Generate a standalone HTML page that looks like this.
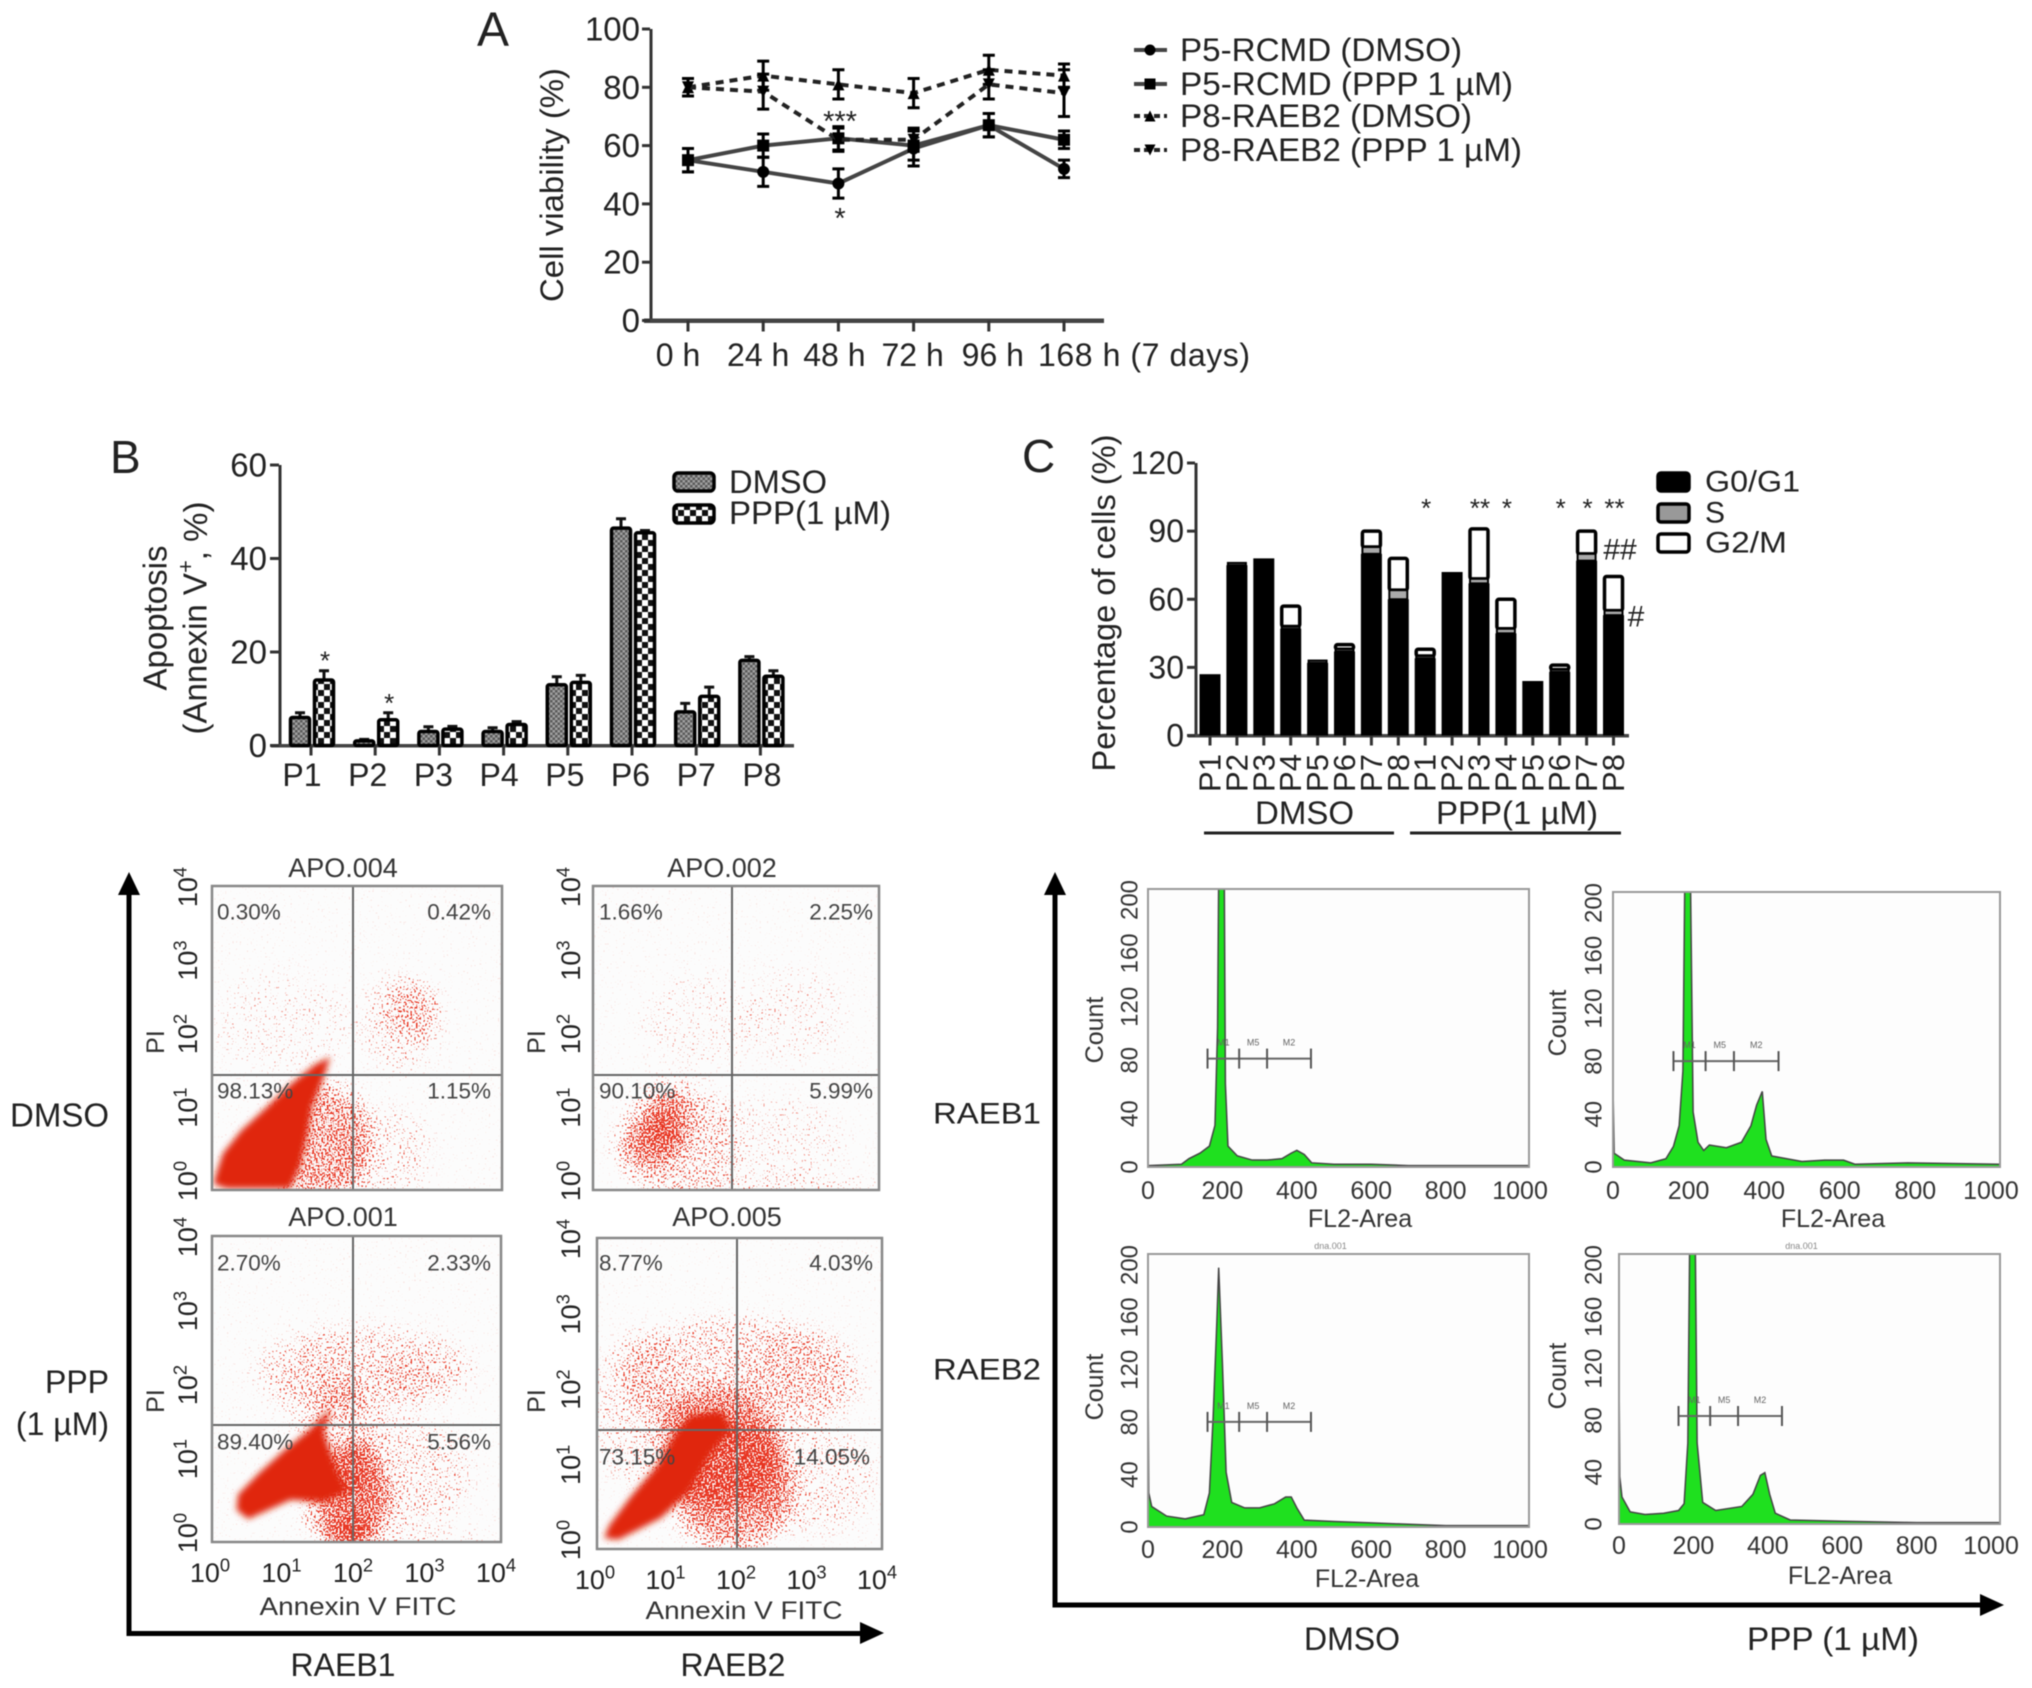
<!DOCTYPE html>
<html lang="en">
<head>
<meta charset="utf-8">
<title>Cell viability, apoptosis and cell cycle panels</title>
<style>
html,body{margin:0;padding:0;background:#fff;width:2032px;height:1688px;overflow:hidden}
svg{display:block;font-family:"Liberation Sans",sans-serif;fill:#222;dominant-baseline:central;filter:blur(.6px)}
.t32{font-size:32px}
.t30{font-size:30px}
.pct{font-size:22.5px;fill:#444}
.ttl{font-size:27px;fill:#333}
.ann{font-size:25px;fill:#333}
.mid{text-anchor:middle}
.end{text-anchor:end}
</style>
</head>
<body>
<svg id="fig" width="2032" height="1688" viewBox="0 0 2032 1688" xmlns="http://www.w3.org/2000/svg">
<defs>
  <pattern id="patDmso" width="5" height="5" patternUnits="userSpaceOnUse">
    <rect width="5" height="5" fill="#a0a0a0"/><rect width="2.5" height="2.5" fill="#5a5a5a"/><rect x="2.5" y="2.5" width="2.5" height="2.5" fill="#5a5a5a"/>
  </pattern>
  <pattern id="patPpp" width="12" height="12" patternUnits="userSpaceOnUse">
    <rect width="12" height="12" fill="#fff"/><rect width="6" height="6" fill="#111"/><rect x="6" y="6" width="6" height="6" fill="#111"/>
  </pattern>
  <filter id="speckle" x="-30%" y="-30%" width="160%" height="160%" color-interpolation-filters="sRGB">
    <feGaussianBlur in="SourceAlpha" stdDeviation="9" result="dens"/>
    <feTurbulence type="fractalNoise" baseFrequency="0.55" numOctaves="1" seed="4" result="n"/>
    <feColorMatrix in="n" type="matrix" values="0 0 0 0 0  0 0 0 0 0  0 0 0 0 0  2.4 0 0 0 -0.7" result="na"/>
    <feComposite in="dens" in2="na" operator="arithmetic" k1="0" k2="7" k3="7" k4="-7" result="mask"/>
    <feFlood flood-color="#e8321e"/>
    <feComposite in2="mask" operator="in"/>
  </filter>
  <filter id="soft"><feGaussianBlur stdDeviation="3.2"/></filter>
</defs>

<!-- Panel letters -->
<text x="477" y="30" font-size="48">A</text>
<text x="110" y="457" font-size="46">B</text>
<text x="1022" y="456" font-size="46">C</text>

<!-- Panel A static text -->
<text class="t32 mid" transform="translate(552 185) rotate(-90)" textLength="234" lengthAdjust="spacingAndGlyphs">Cell viability (%)</text>
<text class="t32" x="1180" y="50" textLength="282" lengthAdjust="spacingAndGlyphs">P5-RCMD (DMSO)</text>
<text class="t32" x="1180" y="84" textLength="333" lengthAdjust="spacingAndGlyphs">P5-RCMD (PPP 1 µM)</text>
<text class="t32" x="1180" y="116" textLength="292" lengthAdjust="spacingAndGlyphs">P8-RAEB2 (DMSO)</text>
<text class="t32" x="1180" y="150" textLength="342" lengthAdjust="spacingAndGlyphs">P8-RAEB2 (PPP 1 µM)</text>

<!-- Panel B static text -->
<text class="mid" font-size="33" transform="translate(155 618) rotate(-90)">Apoptosis</text>
<text class="mid" font-size="33" transform="translate(195 618) rotate(-90)">(Annexin V<tspan font-size="22" dy="-10">+</tspan><tspan dy="10">, %)</tspan></text>
<text class="t32" x="729" y="482" textLength="98" lengthAdjust="spacingAndGlyphs">DMSO</text>
<text class="t32" x="729" y="513" textLength="162" lengthAdjust="spacingAndGlyphs">PPP(1 µM)</text>

<!-- Panel C static text -->
<text class="t32 mid" transform="translate(1104 603) rotate(-90)" textLength="337" lengthAdjust="spacingAndGlyphs">Percentage of cells (%)</text>
<text class="t30" x="1705" y="482" textLength="95" lengthAdjust="spacingAndGlyphs">G0/G1</text>
<text class="t30" x="1705" y="513">S</text>
<text class="t30" x="1705" y="543" textLength="82" lengthAdjust="spacingAndGlyphs">G2/M</text>
<text class="t32" x="1255" y="813" textLength="99" lengthAdjust="spacingAndGlyphs">DMSO</text>
<text class="t32" x="1436" y="813" textLength="162" lengthAdjust="spacingAndGlyphs">PPP(1 µM)</text>
<rect x="1204" y="831.5" width="190" height="3" fill="#222"/>
<rect x="1410" y="831.5" width="211" height="3" fill="#222"/>
<text x="1620" y="550" font-size="30" class="mid">##</text>
<text x="1636" y="617" font-size="30" class="mid">#</text>

<!-- Large axes -->
<g fill="#000">
  <rect x="126.5" y="884" width="5" height="752"/>
  <rect x="126.5" y="1631" width="742" height="5"/>
  <polygon points="129,872 118,895 140,895"/>
  <polygon points="884,1633 860,1622 860,1644"/>
</g>
<g fill="#000">
  <rect x="1052.5" y="884" width="5" height="723"/>
  <rect x="1052.5" y="1602.5" width="935" height="5"/>
  <polygon points="1055,872 1044,895 1066,895"/>
  <polygon points="2004,1605 1980,1594 1980,1616"/>
</g>
<text class="end" font-size="33" x="109" y="1115">DMSO</text>
<text class="t32 end" x="109" y="1382">PPP</text>
<text class="t32 end" x="109" y="1424">(1 µM)</text>
<text class="t32 mid" x="343" y="1665">RAEB1</text>
<text class="t32 mid" x="733" y="1665">RAEB2</text>
<text class="t30" x="933" y="1114" textLength="108" lengthAdjust="spacingAndGlyphs">RAEB1</text>
<text class="t30" x="933" y="1370" textLength="108" lengthAdjust="spacingAndGlyphs">RAEB2</text>
<text class="t32 mid" x="1352" y="1639">DMSO</text>
<text class="t32 mid" x="1833" y="1639" textLength="172" lengthAdjust="spacingAndGlyphs">PPP (1 µM)</text>

<!-- Dot plot titles and quadrant percentages -->
<text class="ttl mid" x="343" y="868">APO.004</text>
<text class="ttl mid" x="722" y="868">APO.002</text>
<text class="ttl mid" x="343" y="1217">APO.001</text>
<text class="ttl mid" x="727" y="1217">APO.005</text>
<text class="ann mid" x="358" y="1607" textLength="197" lengthAdjust="spacingAndGlyphs">Annexin V FITC</text>
<text class="ann mid" x="744" y="1611" textLength="197" lengthAdjust="spacingAndGlyphs">Annexin V FITC</text>
<text class="ann mid" transform="translate(156 1042) rotate(-90)">PI</text>
<text class="ann mid" transform="translate(537 1042) rotate(-90)">PI</text>
<text class="ann mid" transform="translate(156 1401) rotate(-90)">PI</text>
<text class="ann mid" transform="translate(537 1401) rotate(-90)">PI</text>

<g id="chartA"></g>
<g id="chartB"></g>
<g id="chartC"></g>
<g id="dots"></g>
<g id="hists"></g>

<g>
<text class="pct" x="217" y="912">0.30%</text>
<text class="pct end" x="491" y="912">0.42%</text>
<text class="pct" x="217" y="1091">98.13%</text>
<text class="pct end" x="491" y="1091">1.15%</text>
<text class="pct" x="599" y="912">1.66%</text>
<text class="pct end" x="873" y="912">2.25%</text>
<text class="pct" x="599" y="1091">90.10%</text>
<text class="pct end" x="873" y="1091">5.99%</text>
<text class="pct" x="217" y="1263">2.70%</text>
<text class="pct end" x="491" y="1263">2.33%</text>
<text class="pct" x="217" y="1442">89.40%</text>
<text class="pct end" x="491" y="1442">5.56%</text>
<text class="pct" x="599" y="1263">8.77%</text>
<text class="pct end" x="873" y="1263">4.03%</text>
<text class="pct" x="599" y="1457">73.15%</text>
<text class="pct end" x="870" y="1457">14.05%</text>
</g>
</svg>

<script>
/* ---------- Panel A data ---------- */
const aCategories = ['0 h', '24 h', '48 h', '72 h', '96 h', '168 h (7 days)'];
const aYTicks = [0, 20, 40, 60, 80, 100];
const aP5Dmso = [55, 51, 47, 59, 67, 52];
const aP5Ppp = [55, 60, 62.5, 60, 67, 62];
const aP8Dmso = [80, 84, 81, 78, 86, 84];
const aP8Ppp = [80, 78.5, 62, 62, 81, 78];
const aP5DmsoErr = [4, 5, 5, 6, 4, 3];
const aP5PppErr = [4, 4, 4, 5, 4, 3];
const aP8DmsoErr = [3, 5, 5, 5, 5, 4];
const aP8PppErr = [3, 6, 4, 4, 5, 8];

/* ---------- Panel B data ---------- */
const bCategories = ['P1', 'P2', 'P3', 'P4', 'P5', 'P6', 'P7', 'P8'];
const bYTicks = [0, 20, 40, 60];
const bDmso = [6, 1, 3, 3, 13, 46.5, 7.2, 18.2];
const bPpp = [14, 5.5, 3.5, 4.5, 13.5, 45.5, 10.5, 14.8];
const bDmsoErr = [1, 0.3, 1, 0.8, 1.7, 2, 1.8, 0.8];
const bPppErr = [2, 1.5, 0.6, 0.6, 1.5, 0.5, 2, 1.2];
const bStars = ['*', '*', '', '', '', '', '', ''];

/* ---------- Panel C data ---------- */
const cCategories = ['P1', 'P2', 'P3', 'P4', 'P5', 'P6', 'P7', 'P8', 'P1', 'P2', 'P3', 'P4', 'P5', 'P6', 'P7', 'P8'];
const cYTicks = [0, 30, 60, 90, 120];
const cG0 = [27, 75, 78, 47, 32, 37, 80, 60, 34, 72, 67, 45, 24, 28, 77, 53];
const cS = [0, 1, 0, 1, 1, 1, 3, 4, 1, 0, 2, 2, 0, 1, 3, 2];
const cG2M = [0, 0, 0, 9, 0, 2, 7, 14, 3, 0, 22, 13, 0, 2, 10, 15];
const cStars = ['', '', '', '', '', '', '', '', '*', '', '**', '*', '', '*', '*', '**'];

/* ---------- Dot plot data: log10 axis units ---------- */
const dotLogTicks = [0, 1, 2, 3, 4];
const dot1Core = [[.06,.22],[.15,.48],[.40,.78],[.72,1.06],[1.07,1.38],[1.42,1.65],[1.63,1.75],[1.53,1.45],[1.38,1.10],[1.32,.75],[1.22,.32],[1.08,.02],[.2,.02],[.02,.08]];
const dot1Clouds = [[1.5,.6,.7,.8,.46],[2.4,.5,.6,.6,.12],[2.75,2.35,.38,.35,.28],[2.6,2.2,.5,.6,.14],[1,2.2,1,.6,.07]];
const dot2Core = [];
const dot2Clouds = [[.8,.6,.45,.35,.42],[1.05,.95,.35,.4,.44],[1.2,.6,.8,.8,.22],[2.8,2.3,.7,.6,.08],[1.5,2.2,.8,.6,.07],[2.5,.6,1,.6,.08],[2.5,.02,1.5,.06,.3]];
const dot3Core = [[.36,.62],[.65,.9],[1.0,1.2],[1.34,1.46],[1.64,1.75],[1.55,1.43],[1.7,1.01],[1.88,.66],[1.55,.52],[1.09,.55],[.5,.3],[.34,.42]];
const dot3Clouds = [[1.9,.6,.6,.7,.5],[2.1,2.25,1.5,.55,.18],[2.7,2.2,.5,.25,.2],[1.5,2.0,.6,.6,.12],[2.6,.9,1,.7,.16],[1.9,.12,.35,.2,.5],[1.8,1.3,.5,.9,.22],[2.8,.02,1,.05,.3]];
const dot4Core = [[.17,.3],[.47,.67],[.85,1.08],[1.1,1.5],[1.3,1.72],[1.75,1.78],[1.9,1.55],[1.6,1.22],[1.3,.74],[.9,.4],[.3,.12],[.1,.14]];
const dot4Clouds = [[1.9,.8,.9,.8,.48],[2,2.2,1.7,.75,.24],[2.7,2.3,.7,.4,.13],[1.7,1.3,.9,.8,.42],[.6,1.8,.6,1,.15],[3,.9,.9,.7,.13]];

/* ---------- Histogram data: channel and count ---------- */
const histXTicks = [0, 200, 400, 600, 800, 1000];
const histYTicks = [0, 40, 80, 120, 160, 200];
const hist1Channels = [0, 90, 110, 140, 165, 180, 187, 190, 205, 208, 215, 240, 280, 320, 360, 385, 400, 420, 440, 500, 600, 700, 1023];
const hist1Counts = [1, 2, 6, 10, 15, 30, 100, 210, 210, 60, 15, 8, 5, 5, 6, 10, 12, 9, 3, 2, 2, 1, 1];
const hist2Channels = [0, 3, 30, 100, 140, 160, 175, 185, 190, 205, 212, 225, 240, 255, 300, 340, 365, 380, 395, 405, 420, 500, 560, 610, 640, 780, 1023];
const hist2Counts = [60, 10, 5, 3, 6, 15, 30, 70, 210, 210, 40, 18, 12, 16, 14, 18, 30, 45, 55, 20, 8, 4, 5, 5, 2, 3, 2];
const hist3Channels = [0, 2, 10, 50, 100, 150, 165, 175, 185, 190, 200, 210, 225, 260, 300, 340, 370, 385, 400, 420, 500, 600, 800, 1023];
const hist3Counts = [120, 25, 15, 8, 6, 9, 25, 80, 150, 190, 120, 40, 18, 14, 14, 17, 22, 22, 14, 5, 4, 3, 1, 1];
const hist4Channels = [0, 2, 8, 30, 70, 120, 160, 175, 185, 190, 205, 210, 225, 260, 330, 360, 380, 392, 405, 420, 460, 600, 800, 1023];
const hist4Counts = [120, 35, 20, 9, 7, 8, 10, 15, 60, 210, 210, 60, 16, 10, 13, 22, 36, 38, 22, 8, 3, 2, 1, 1];
const gateChannels = [160, 245, 320, 438];
const gateLabels = ['M1', 'M5', 'M2'];

/* ---------- Helpers ---------- */
const NS = 'http://www.w3.org/2000/svg';
function mk(tag, parent, attrs) {
  const e = document.createElementNS(NS, tag);
  for (const k in attrs) e.setAttribute(k, attrs[k]);
  parent.appendChild(e);
  return e;
}
function txt(parent, str, x, y, size, anchor, rotate) {
  const e = mk('text', parent, {'font-size': size, 'text-anchor': anchor || 'middle'});
  if (rotate) e.setAttribute('transform', 'translate(' + x + ' ' + y + ') rotate(-90)');
  else { e.setAttribute('x', x); e.setAttribute('y', y); }
  e.textContent = str;
  return e;
}
function pow10(parent, exp, x, y, size, rotate) {
  const e = txt(parent, '10', x, y, size, 'middle', rotate);
  const s = mk('tspan', e, {'font-size': size * 0.68, dy: -size * 0.32});
  s.textContent = exp;
  return e;
}

/* ---------- Panel A ---------- */
(function () {
  const root = document.getElementById('chartA');
  const x = i => 688 + i * 75.2;
  const y = v => 320.5 - v * 2.915;
  const xNudge = [-10, -5, -4, -1, 4];

  const yAxis = mk('rect', root, {x: 649.5, y: 29, width: 3, height: 293, fill: '#333'});
  
  
  const xAxis = mk('rect', root, {x: 644, y: 318.5, width: 460, height: 4.5, fill: '#444'});
  
  

  aYTicks.forEach(v => {
    const t = mk('rect', root, {x: 642, y: y(v) - 1.5, width: 8, height: 3, fill: '#333'});
    
    
    const l = txt(root, String(v), 640, y(v), 33, 'end');
    
    
  });
  aCategories.forEach((c, i) => {
    const t = mk('rect', root, {x: x(i) - 1.5, y: 320.5, width: 3, height: 11, fill: '#333'});
    
    
    const l = i < 5 ? txt(root, c, x(i) + xNudge[i], 355, 32) : txt(root, c, x(i) - 26, 355, 32, 'start');
    if (i === 5) l.setAttribute('textLength', 212);
    
    
  });

  const series = [
    {v: aP5Dmso, e: aP5DmsoErr, dash: '', stroke: '#444', mark: 'circle'},
    {v: aP5Ppp, e: aP5PppErr, dash: '', stroke: '#444', mark: 'square'},
    {v: aP8Dmso, e: aP8DmsoErr, dash: '8 6', stroke: '#222', mark: 'up'},
    {v: aP8Ppp, e: aP8PppErr, dash: '8 6', stroke: '#222', mark: 'down'}
  ];
  function marker(parent, kind, cx, cy, r) {
    if (kind === 'circle') return mk('circle', parent, {cx: cx, cy: cy, r: r, fill: '#000'});
    if (kind === 'square') return mk('rect', parent, {x: cx - r, y: cy - r, width: 2 * r, height: 2 * r, fill: '#000'});
    const d = kind === 'up' ? -1 : 1;
    return mk('polygon', parent, {points: (cx - r) + ',' + (cy - d * r) + ' ' + (cx + r) + ',' + (cy - d * r) + ' ' + cx + ',' + (cy + d * r), fill: '#000'});
  }
  series.forEach(s => {
    const line = mk('polyline', root, {points: s.v.map((v, i) => x(i) + ',' + y(v)).join(' '), fill: 'none', stroke: s.stroke, 'stroke-width': 4, 'stroke-dasharray': s.dash});
    
    
    s.v.forEach((v, i) => {
      const err = mk('path', root, {d: 'M' + x(i) + ' ' + y(v - s.e[i]) + 'V' + y(v + s.e[i]) + 'M' + (x(i) - 6) + ' ' + y(v - s.e[i]) + 'h12M' + (x(i) - 6) + ' ' + y(v + s.e[i]) + 'h12', stroke: '#000', 'stroke-width': 3, fill: 'none'});
      
      
      const m = marker(root, s.mark, x(i), y(v), 6);
      
      
    });
  });

  const s1 = txt(root, '***', 840, 122, 29);
  
  
  const s2 = txt(root, '*', 840, 219, 29);
  
  

  const rows = [50, 84, 116, 150];
  series.forEach((s, i) => {
    const l = mk('line', root, {x1: 1134, x2: 1167, y1: rows[i], y2: rows[i], stroke: s.stroke, 'stroke-width': 4, 'stroke-dasharray': s.dash ? '6 4' : ''});
    
    
    const m = marker(root, s.mark, 1150, rows[i], 5.5);
    
    
  });
})();

/* ---------- Panel B ---------- */
(function () {
  const root = document.getElementById('chartB');
  const x = i => 311 + i * 64.2;
  const y = v => 745.5 - v * (280.5 / 60);

  const ya = mk('rect', root, {x: 278.5, y: 465, width: 3, height: 282, fill: '#333'});
  
  
  const xa = mk('rect', root, {x: 271, y: 744, width: 523, height: 3.5, fill: '#444'});
  
  

  bYTicks.forEach(v => {
    const t = mk('rect', root, {x: 270, y: y(v) - 1.5, width: 9, height: 3, fill: '#333'});
    
    
    const l = txt(root, String(v), 267, y(v), 33, 'end');
    
    
  });

  function bar(i, v, e, off, pat, star) {
    const cx = x(i) + off;
    const err = mk('path', root, {d: 'M' + cx + ' ' + y(v) + 'V' + y(v + e) + 'M' + (cx - 5) + ' ' + y(v + e) + 'h10', stroke: '#111', 'stroke-width': 3, fill: 'none'});
    
    
    const r = mk('rect', root, {x: cx - 9.5, y: y(v), width: 19, height: Math.max(0, 745.5 - y(v)), fill: pat, stroke: '#000', 'stroke-width': 3.5, rx: 2});
    
    
    if (star) {
      const st = txt(root, star, cx + 1, y(v + e) - 10, 26);
      
      
    }
  }
  bCategories.forEach((c, i) => {
    const t = mk('rect', root, {x: x(i) - 1.5, y: 745.5, width: 3, height: 10, fill: '#333'});
    
    
    const l = txt(root, c, x(i) - 9 + i * 1.5, 775, 32);
    
    
    bar(i, bDmso[i], bDmsoErr[i], -11, 'url(#patDmso)', '');
    bar(i, bPpp[i], bPppErr[i], 13, 'url(#patPpp)', bStars[i]);
  });
  const k1 = mk('rect', root, {x: 674, y: 473, width: 40, height: 18, rx: 4, fill: 'url(#patDmso)', stroke: '#000', 'stroke-width': 3.5});
  
  
  const k2 = mk('rect', root, {x: 674, y: 505, width: 40, height: 18, rx: 4, fill: 'url(#patPpp)', stroke: '#000', 'stroke-width': 3.5});
  
  
})();

/* ---------- Panel C ---------- */
(function () {
  const root = document.getElementById('chartC');
  const x = i => 1210 + i * 26.9;
  const y = v => 735.5 - v * (272.5 / 120);

  const ya = mk('rect', root, {x: 1194.5, y: 463, width: 3, height: 274, fill: '#333'});
  
  
  const xa = mk('rect', root, {x: 1188, y: 734, width: 441, height: 3.5, fill: '#444'});
  
  

  cYTicks.forEach(v => {
    const t = mk('rect', root, {x: 1187, y: y(v) - 1.5, width: 8, height: 3, fill: '#333'});
    
    
    const l = txt(root, String(v), 1184, y(v), 32, 'end');
    
    
  });

  cCategories.forEach((c, i) => {
    const t = mk('rect', root, {x: x(i) - 1.5, y: 735.5, width: 3, height: 10, fill: '#333'});
    
    
    const l = txt(root, c, x(i), 773, 31, 'middle', true);
    
    

    const a = cG0[i], b = a + cS[i], d = b + cG2M[i];
    if (cG2M[i] > 0) {
      const top = mk('rect', root, {x: x(i) - 9, y: y(d), width: 18, height: y(b) - y(d), fill: '#fff', stroke: '#000', 'stroke-width': 3.5, rx: 2});
      
      
    }
    if (cS[i] > 0) {
      const mid = mk('rect', root, {x: x(i) - 9, y: y(b), width: 18, height: y(a) - y(b), fill: '#aaa', stroke: '#000', 'stroke-width': 2});
      
      
    }
    const low = mk('rect', root, {x: x(i) - 10.5, y: y(a), width: 21, height: 735.5 - y(a), fill: '#000'});
    
    
    if (cStars[i]) {
      const st = txt(root, cStars[i], x(i) + 1, 508, 26);
      
      
    }
  });

  const swatchFill = ['#000', '#999', '#fff'];
  const swatchRows = [482, 513, 543];
  swatchFill.forEach((f, i) => {
    const s = mk('rect', root, {x: 1658, y: swatchRows[i] - 9, width: 31, height: 18, rx: 3, fill: f, stroke: '#000', 'stroke-width': 3.5});
    
    
  });
})();

/* ---------- Dot plots ---------- */
(function () {
  const root = document.getElementById('dots');
  const plots = [
    {fx: 212, fy: 886, fw: 290, fh: 304, qx: 353, qy: 1075, core: dot1Core, clouds: dot1Clouds, xl: false, id: 'dotClip1', lx: 188},
    {fx: 593, fy: 886, fw: 286, fh: 304, qx: 732, qy: 1075, core: dot2Core, clouds: dot2Clouds, xl: false, id: 'dotClip2', lx: 571},
    {fx: 212, fy: 1236, fw: 289, fh: 306, qx: 353, qy: 1425, core: dot3Core, clouds: dot3Clouds, xl: true, id: 'dotClip3', lx: 188},
    {fx: 597, fy: 1238, fw: 285, fh: 311, qx: 737, qy: 1430, core: dot4Core, clouds: dot4Clouds, xl: true, id: 'dotClip4', lx: 571}
  ];
  const defs = document.querySelector('defs');
  plots.forEach(p => {
    const sx = v => p.fx + v * p.fw / 4;
    const sy = v => p.fy + p.fh - v * p.fh / 4;
    const g = mk('g', root, {});
    
    
    const bg = mk('rect', g, {x: p.fx, y: p.fy, width: p.fw, height: p.fh, fill: '#fcfcfc'});
    
    

    const cp = mk('clipPath', defs, {id: p.id});
    mk('rect', cp, {x: p.fx, y: p.fy, width: p.fw, height: p.fh});
    const clip = mk('g', g, {'clip-path': 'url(#' + p.id + ')'});

    const cloud = mk('g', clip, {filter: 'url(#speckle)'});
    
    
    mk('rect', cloud, {x: p.fx - 20, y: p.fy - 20, width: p.fw + 40, height: p.fh + 40, fill: '#000', 'fill-opacity': 0.02});
    p.clouds.forEach(c => {
      const e = mk('ellipse', cloud, {cx: sx(c[0]), cy: sy(c[1]), rx: c[2] * p.fw / 4, ry: c[3] * p.fh / 4, fill: '#000', 'fill-opacity': c[4]});
      
      
    });
    if (p.core.length) {
      const core = mk('polygon', clip, {points: p.core.map(q => sx(q[0]) + ',' + sy(q[1])).join(' '), fill: '#e0280c', filter: 'url(#soft)'});
      
      
    }

    const qv = mk('line', g, {x1: p.qx, x2: p.qx, y1: p.fy, y2: p.fy + p.fh, stroke: '#666', 'stroke-width': 2});
    
    
    const qh = mk('line', g, {x1: p.fx, x2: p.fx + p.fw, y1: p.qy, y2: p.qy, stroke: '#666', 'stroke-width': 2});
    
    
    const fr = mk('rect', g, {x: p.fx, y: p.fy, width: p.fw, height: p.fh, fill: 'none', stroke: '#888', 'stroke-width': 2.5});
    
    

    dotLogTicks.forEach(v => {
      const ly = p.fy + 1 + (4 - v) * (p.fh - 10) / 4;
      const yl = pow10(g, v, p.lx, ly, 27, true);
      
      
      if (p.xl) {
        const xl = pow10(g, v, p.fx - 2 + v * (p.fw - 3) / 4, p.fy + p.fh + 31, 27, false);
        
        
      }
    });
  });
})();

/* ---------- Histograms ---------- */
(function () {
  const root = document.getElementById('hists');
  const panels = [
    {fx: 1148, fy: 889, fw: 381, fh: 278, ch: hist1Channels, ct: hist1Counts, yl: 1130, cx: 1095, cy: 1030, xly: 1191, tx: 1360, ty: 1219, gate: 78, id: 'hClip1', note: ''},
    {fx: 1613, fy: 892, fw: 387, fh: 275, ch: hist2Channels, ct: hist2Counts, yl: 1594, cx: 1558, cy: 1023, xly: 1191, tx: 1833, ty: 1219, gate: 77, id: 'hClip2', note: ''},
    {fx: 1148, fy: 1254, fw: 381, fh: 273, ch: hist3Channels, ct: hist3Counts, yl: 1130, cx: 1095, cy: 1387, xly: 1550, tx: 1367, ty: 1579, gate: 77, id: 'hClip3', note: 'dna.001'},
    {fx: 1619, fy: 1254, fw: 381, fh: 270, ch: hist4Channels, ct: hist4Counts, yl: 1594, cx: 1558, cy: 1376, xly: 1546, tx: 1840, ty: 1576, gate: 80, id: 'hClip4', note: 'dna.001'}
  ];
  const defs = document.querySelector('defs');
  panels.forEach(p => {
    const sx = c => p.fx + c * p.fw / 1024;
    const sy = c => p.fy + p.fh - c * p.fh / 200;
    const g = mk('g', root, {});
    
    
    const bg = mk('rect', g, {x: p.fx, y: p.fy, width: p.fw, height: p.fh, fill: '#fdfdfd'});
    
    
    const cp = mk('clipPath', defs, {id: p.id});
    mk('rect', cp, {x: p.fx, y: p.fy, width: p.fw, height: p.fh});
    const clip = mk('g', g, {'clip-path': 'url(#' + p.id + ')'});
    const pts = p.ch.map((c, i) => sx(c) + ',' + sy(p.ct[i])).join(' ');
    const area = mk('polygon', clip, {points: sx(0) + ',' + sy(0) + ' ' + pts + ' ' + sx(1023) + ',' + sy(0), fill: '#1fe01f'});
    
    
    const outline = mk('polyline', clip, {points: pts, fill: 'none', stroke: '#444', 'stroke-width': 1.5});
    
    

    const fr = mk('rect', g, {x: p.fx, y: p.fy, width: p.fw, height: p.fh, fill: 'none', stroke: '#999', 'stroke-width': 2});
    
    

    const gy = sy(p.gate);
    const gLine = mk('line', g, {x1: sx(gateChannels[0]), x2: sx(gateChannels[3]), y1: gy, y2: gy, stroke: '#666', 'stroke-width': 2});
    
    
    gateChannels.forEach(c => {
      const m = mk('line', g, {x1: sx(c), x2: sx(c), y1: gy - 10, y2: gy + 10, stroke: '#555', 'stroke-width': 2});
      
      
    });
    gateLabels.forEach((s, i) => {
      const t = txt(g, s, (sx(gateChannels[i]) + sx(gateChannels[i + 1])) / 2, gy - 16, 9);
      t.setAttribute('fill', '#666');
      
      
    });

    histYTicks.forEach(c => {
      const t = txt(g, String(c), p.yl, sy(c) + c / 200 * 11, 24, 'middle', true);
      t.setAttribute('fill', '#333');
      
      
    });
    histXTicks.forEach(c => {
      const t = txt(g, String(c), sx(c), p.xly, 25);
      t.setAttribute('fill', '#333');
      
      
    });
    const yTitle = txt(g, 'Count', p.cx, p.cy, 25, 'middle', true);
    yTitle.setAttribute('fill', '#333');
    
    
    const xTitle = txt(g, 'FL2-Area', p.tx, p.ty, 25);
    xTitle.setAttribute('fill', '#333');
    
    
    if (p.note) {
      const n = txt(g, p.note, p.fx + p.fw / 2 - 8, p.fy - 8, 9);
      n.setAttribute('fill', '#888');
      
      
    }
  });
})();
</script>
</body>
</html>
